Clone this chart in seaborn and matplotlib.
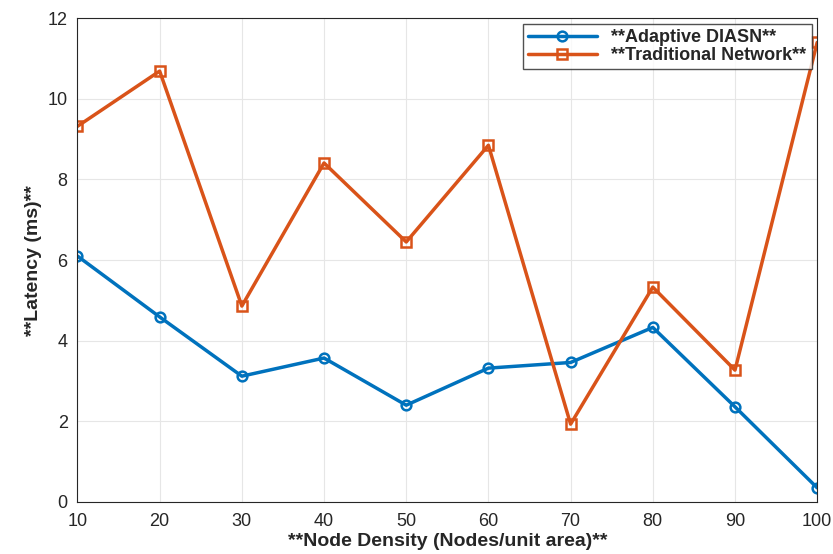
import matplotlib
matplotlib.use('Agg')
import matplotlib.pyplot as plt
import seaborn as sns

# chart values
node_density = [10, 20, 30, 40, 50, 60, 70, 80, 90, 100]
adaptive_latency = [6.10, 4.59, 3.12, 3.57, 2.40, 3.32, 3.46, 4.33, 2.36, 0.35]
traditional_latency = [9.32, 10.69, 4.86, 8.41, 6.45, 8.85, 1.93, 5.33, 3.27, 11.40]
series_names = ['**Adaptive DIASN**', '**Traditional Network**']
colors = ['#0072BD', '#D95319']
markers = ['o', 's']

sns.set_style("whitegrid")
plt.rcParams['font.family'] = ['Liberation Sans', 'DejaVu Sans']

fig, ax = plt.subplots(figsize=(8.33, 5.54), dpi=100)
for yvals, name, c, m in zip([adaptive_latency, traditional_latency], series_names, colors, markers):
    sns.lineplot(x=node_density, y=yvals, color=c, marker=m, label=name,
                 linewidth=2.5, markersize=7, markerfacecolor='none',
                 markeredgecolor=c, markeredgewidth=1.8, ax=ax)

ax.set_xlim(10, 100)
ax.set_ylim(0, 12)
ax.set_xticks(node_density)
ax.set_yticks(range(0, 13, 2))
ax.tick_params(axis='both', labelsize=13, length=4, direction='in', colors='#262626')
ax.tick_params(axis='x', pad=8)
ax.tick_params(axis='y', pad=7)
ax.grid(True, color='#e6e6e6', linewidth=0.8)
for s in ax.spines.values():
    s.set_color('#262626')
    s.set_linewidth(0.8)

ax.set_xlabel("**Node Density (Nodes/unit area)**", fontsize=14, fontweight='bold', labelpad=2)
ax.set_ylabel("**Latency (ms)**", fontsize=14, fontweight='bold', labelpad=4)

leg = ax.legend(loc='upper right', fontsize=13, frameon=True, fancybox=False,
                borderaxespad=0.3, handlelength=3.8, borderpad=0.3, labelspacing=0.05)
for t in leg.get_texts():
    t.set_fontweight('bold')
leg.get_frame().set_edgecolor('#262626')

plt.subplots_adjust(left=0.093, right=0.981, top=0.967, bottom=0.094)
plt.savefig('out.png', dpi=100)
